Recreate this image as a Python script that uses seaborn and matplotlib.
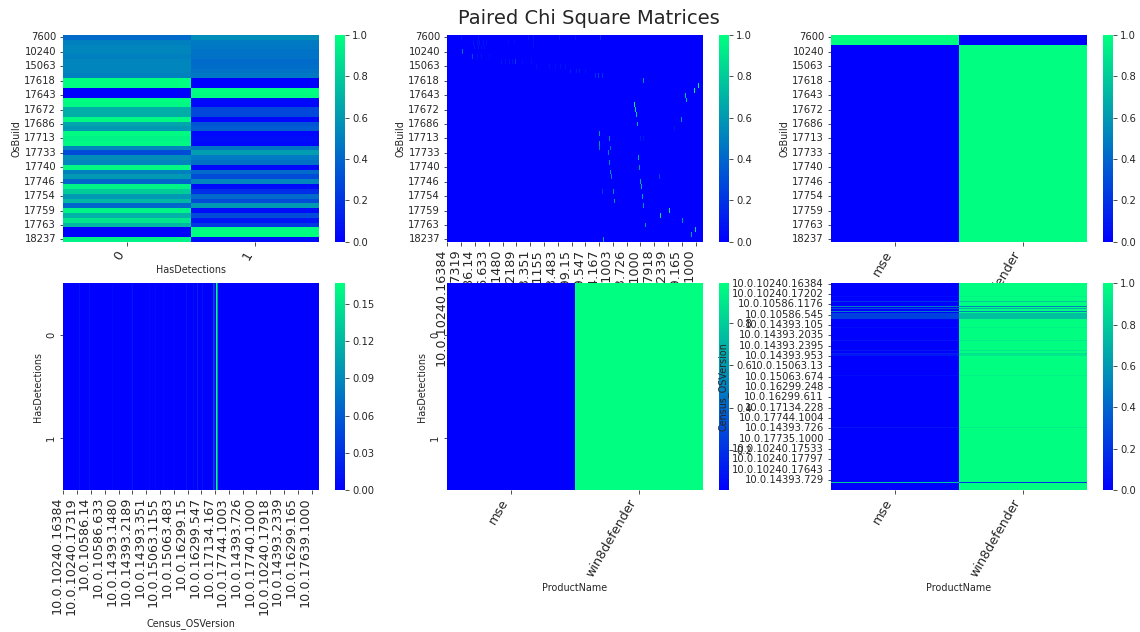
import numpy as np
import pandas as pd
import matplotlib
matplotlib.use("Agg")
import matplotlib.pyplot as plt
import seaborn as sns

sns.set_style("white")
TXT = "#262626"
plt.rcParams.update({
    "font.family": "DejaVu Sans",
    "text.color": TXT, "axes.labelcolor": TXT,
    "xtick.color": TXT, "ytick.color": TXT,
    "xtick.bottom": True, "ytick.left": True,
    "xtick.major.size": 3.5, "ytick.major.size": 3.5,
    "xtick.major.width": 0.8, "ytick.major.width": 0.8,
    "axes.labelsize": 9.6, "axes.labelpad": 3, "xtick.labelsize": 10, "ytick.labelsize": 10,
})

# ---- data ----
N_BUILDS = 43
N_VERSIONS = 260
detections = ["0", "1"]
products = ["mse", "win8defender"]

os_build_labels = ["7600", "10240", "15063", "17618", "17643", "17672", "17686", "17713",
                   "17733", "17740", "17746", "17754", "17759", "17763", "18237"]
version_x_labels = ["10.0.10240.16384", "10.0.10240.17319", "10.0.10586.14", "10.0.10586.633",
                    "10.0.14393.1480", "10.0.14393.2189", "10.0.14393.351", "10.0.15063.1155",
                    "10.0.15063.483", "10.0.16299.15", "10.0.16299.547", "10.0.17134.167",
                    "10.0.17744.1003", "10.0.14393.726", "10.0.17740.1000", "10.0.10240.17918",
                    "10.0.14393.2339", "10.0.16299.165", "10.0.17639.1000"]
version_y_labels = ["10.0.10240.16384", "10.0.10240.17202", "10.0.10586.1176", "10.0.10586.545",
                    "10.0.14393.105", "10.0.14393.2035", "10.0.14393.2395", "10.0.14393.953",
                    "10.0.15063.13", "10.0.15063.674", "10.0.16299.248", "10.0.16299.611",
                    "10.0.17134.228", "10.0.17744.1004", "10.0.14393.726", "10.0.17735.1000",
                    "10.0.10240.17533", "10.0.10240.17797", "10.0.10240.17643", "10.0.14393.729"]

build_det_0 = [.42, .5, .52, .52, .5, .52, .52, .52, .5, 1, 1, 0, 0, 1, .97, .68, .68, .97, .65, .6,
               .98, .95, .97, .52, .3, .55, .52, .97, .5, .6, .4, .95, .8, .6, .72, .4, .95, .7, .9,
               .72, 0, 0, .95]
build_det_1 = [.55, .48, .47, .45, .45, .42, .43, .45, .47, 0, 0, 1, .98, .03, .03, .28, .28, .03, .33,
               .36, .03, .05, .03, .46, .62, .48, .44, .03, .42, .3, .52, .04, .18, .42, .3, .6, .05,
               .3, .08, .22, 1, 1, .05]

# OsBuild x Census_OSVersion: the few non-zero cells
hit_rows = [3, 4, 5, 9, 10, 11, 12, 13, 14, 15, 16, 18, 17, 19, 20, 22, 23, 21, 23, 24, 25, 26, 27, 28,
            29, 29, 30, 31, 32, 32, 33, 34, 35, 36, 37, 38, 39, 40, 41, 42, 19, 21, 21,
            0, 0, 0, 0, 0, 0, 0,
            1, 1, 1, 1, 1, 2, 2, 2, 2, 2, 1, 1, 1,
            4, 4, 4, 5, 5, 5, 5, 5, 5, 6, 6, 6, 6, 6, 6,
            7, 7, 7, 7, 8, 8, 8]
hit_cols = [15, 25, 69, 199, 255, 251, 242, 243, 190, 191, 192, 193, 238, 162, 154, 154, 154, 165, 166,
            164, 194, 165, 195, 166, 167, 215, 196, 197, 157, 169, 198, 170, 199, 225, 216, 239, 201,
            252, 248, 158, 231, 196, 199,
            14, 31, 82, 87, 114, 130, 155,
            26, 30, 33, 37, 40, 27, 31, 35, 38, 87, 62, 68, 87,
            30, 35, 43, 55, 59, 63, 66, 76, 85, 90, 97, 104, 110, 115, 120,
            125, 131, 134, 140, 150, 153, 157]
hit_vals = [.45, .3, .25, .6, .95, .95, .75, .75, .95, .85, .8, .7, .6, .5, .6, .6, .5, .5, .45, .5, .7,
            .55, .6, .6, .5, .3, .7, .7, .25, .55, .65, .6, .6, .9, .9, .6, .6, .85, .65, .65, .1, .12, .1,
            .08, .08, .08, .08, .1, .08, .2,
            .1, .1, .1, .1, .08, .1, .1, .08, .08, .08, .05, .05, .06,
            .08, .08, .06, .08, .08, .08, .08, .06, .06, .07, .07, .07, .07, .07, .07,
            .12, .12, .12, .08, .2, .25, .2]

# HasDetections x Census_OSVersion: non-zero columns (same in both rows)
det_cols = [16, 26, 50, 69, 70, 87, 93, 102, 112, 125, 132, 136, 141, 152, 153, 155, 156]
det_vals = [.012, .012, .006, .005, .015, .006, .006, .005, .005, .015, .01, .025, .012, .05, .03, .1667, .1]

# HasDetections x ProductName: the colorbar runs just inside 0 and 1
det_mse = [.012, .013]
det_win8 = [.988, .987]

# Census_OSVersion x ProductName: rows that differ from (0, 1), mse share
ver_rows = [16, 23, 29, 31, 35, 38, 39, 40, 41, 42, 43, 44, 55, 72, 84, 88, 89, 90, 106, 116, 181, 250]
ver_mse = [.05, .2, .5, .3, .5, .25, .25, .25, .25, .25, .25, .25, .05, .08, .1, .12, .1, .08, .05, .05, .08, .8]

# ---- matrices ----
m_build_det = pd.DataFrame({"0": build_det_0, "1": build_det_1})
m_build_ver = np.zeros((N_BUILDS, N_VERSIONS))
m_build_ver[hit_rows, hit_cols] = hit_vals
m_build_prod = np.zeros((N_BUILDS, 2))
m_build_prod[:2, 0] = 1
m_build_prod[2:, 1] = 1
m_det_ver = np.zeros((2, N_VERSIONS))
m_det_ver[:, det_cols] = det_vals
m_det_prod = np.column_stack([det_mse, det_win8])
m_ver_prod = np.zeros((N_VERSIONS, 2))
m_ver_prod[:, 1] = 1
m_ver_prod[ver_rows, 0] = ver_mse
m_ver_prod[ver_rows, 1] = 1 - np.array(ver_mse)

# ---- layout ----
W, H = 1140, 632
fig = plt.figure(figsize=(W / 72, H / 72), dpi=72)
fig.subplots_adjust(left=63 / W, right=1151 / W, top=1 - 35 / H, bottom=1 - 490 / H, wspace=.2, hspace=.2)
fig.suptitle("Paired Chi Square Matrices", fontsize=19.5, x=589 / W, y=1 - 18 / H, va="center")


def draw(pos, data, xlabel, ylabel, xticks, xlabels, yticks, ylabels, xrot,
         yrot=0, vmin=0.0, vmax=1.0, cbar_kws=None):
    # panels are created one at a time, so later panels and colorbars paint over earlier labels
    ax = fig.add_subplot(2, 3, pos)
    sns.heatmap(data, ax=ax, cmap="winter", vmin=vmin, vmax=vmax, cbar_kws=cbar_kws or {})
    ax.set_xticks(xticks)
    ax.set_xticklabels(xlabels, rotation=xrot, ha="right", fontsize=12.8)
    ax.set_yticks(yticks)
    ax.set_yticklabels(ylabels, rotation=yrot, va="center")
    ax.set_xlabel(xlabel)
    ax.set_ylabel(ylabel)


build_ticks = np.arange(0, N_BUILDS, 3) + .5
ver_x_ticks = np.arange(0, N_VERSIONS, 14) + .5
ver_y_ticks = np.arange(0, N_VERSIONS, 13) + .5
two = [.5, 1.5]

draw(1, m_build_det, "HasDetections", "OsBuild", two, detections, build_ticks, os_build_labels, 60)
draw(2, m_build_ver, "Census_OSVersion", "OsBuild", ver_x_ticks, version_x_labels, build_ticks, os_build_labels, 90)
draw(3, m_build_prod, "ProductName", "OsBuild", two, products, build_ticks, os_build_labels, 60)
draw(4, m_det_ver, "Census_OSVersion", "HasDetections", ver_x_ticks, version_x_labels, two, detections, 90,
     yrot=90, vmax=.1667, cbar_kws={"ticks": [0, .03, .06, .09, .12, .15], "format": "%.2f"})
draw(5, m_det_prod, "ProductName", "HasDetections", two, products, two, detections, 60, yrot=90,
     vmin=.012, vmax=.988)
draw(6, m_ver_prod, "ProductName", "Census_OSVersion", two, products, ver_y_ticks, version_y_labels, 60)

fig.savefig("out.png", dpi=72)
